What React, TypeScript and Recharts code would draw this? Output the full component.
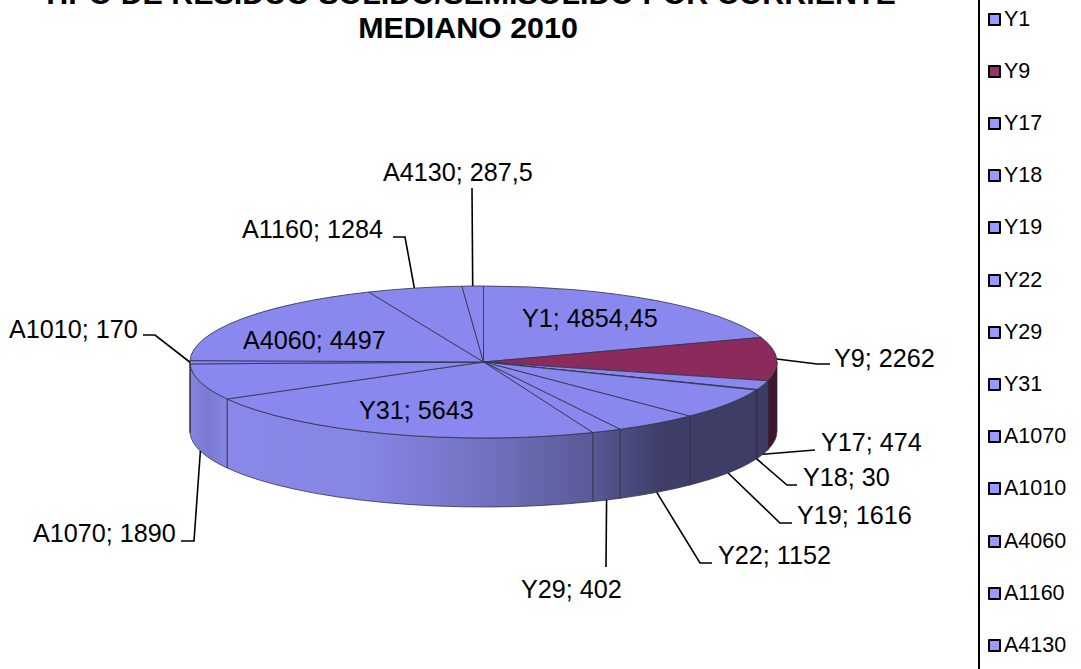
import React from "react";
import { PieChart, Pie, Cell, Legend } from "recharts";

const categories = ["Y1", "Y9", "Y17", "Y18", "Y19", "Y22", "Y29", "Y31", "A1070", "A1010", "A4060", "A1160", "A4130"];
const amounts = [4854.45, 2262, 474, 30, 1616, 1152, 402, 5643, 1890, 170, 4497, 1284, 287.5];

const titleLines = ["TIPO DE RESIDUO SOLIDO/SEMISOLIDO POR CORRIENTE", "MEDIANO 2010"];

const FONT = "'Liberation Sans', Arial, sans-serif";
const WIDTH = 1081;
const HEIGHT = 669;
const RX = 293.5;
const RY = 76;
const DEPTH = 69;

// where each label sits: text start x, text centre y, and the elbow of its leader line
const labelLayout = [
  { x: 522, y: 318 },
  { x: 834, y: 358, elbow: [[817, 364], [830, 364]] },
  { x: 821, y: 442, elbow: [[815, 450]] },
  { x: 803, y: 477, elbow: [[787, 485], [797, 485]] },
  { x: 797, y: 515, elbow: [[780, 523], [792, 523]] },
  { x: 718, y: 555, elbow: [[700, 563], [712, 563]] },
  { x: 521, y: 589, elbow: [[606, 567]] },
  { x: 359, y: 410 },
  { x: 33, y: 533, elbow: [[194, 541], [181, 541]] },
  { x: 9, y: 329, elbow: [[155, 335], [143, 335]] },
  { x: 243, y: 340 },
  { x: 242, y: 229, elbow: [[405, 237], [393, 237]] },
  { x: 383, y: 172, elbow: [[472, 188]] },
];

const tableData = categories.map((name, i) => ({ name, value: amounts[i] }));

const rad = (deg: number) => (deg * Math.PI) / 180;

function Slice3D(props: any) {
  const { cx, cy, startAngle, endAngle, fill, index } = props;
  const pt = (a: number, dy = 0) => `${cx + RX * Math.cos(rad(a))} ${cy - RY * Math.sin(rad(a)) + dy}`;
  // angles run clockwise, so the sweep flag is 1 and end < start
  const large = startAngle - endAngle > 180 ? 1 : 0;
  const top = `M${cx} ${cy} L${pt(startAngle)} A${RX} ${RY} 0 ${large} 1 ${pt(endAngle)} Z`;

  const a1 = Math.min(startAngle, 0);
  const a2 = Math.max(endAngle, -180);
  const hasWall = a1 > a2;
  const wall = `M${pt(a1)} A${RX} ${RY} 0 0 1 ${pt(a2)} L${pt(a2, DEPTH)} A${RX} ${RY} 0 0 0 ${pt(a1, DEPTH)} Z`;

  return (
    <g>
      {hasWall && (
        <path
          d={wall}
          fill={index === 1 ? "url(#wallPlum)" : "url(#wallBlue)"}
          stroke="#2c2c48"
          strokeWidth={1}
          strokeOpacity={0.75}
        />
      )}
      <path d={top} fill={fill} stroke="#34344e" strokeWidth={1} strokeOpacity={0.85} />
    </g>
  );
}

function sliceLabel(props: any) {
  const { cx, cy, midAngle, index, name, value } = props;
  const spot = labelLayout[index];
  const text = `${name}; ${String(value).replace(".", ",")}`;
  let line = null;
  if (spot.elbow) {
    const sx = cx + RX * Math.cos(rad(midAngle));
    const sy = cy - RY * Math.sin(rad(midAngle)) + (Math.sin(rad(midAngle)) < -0.01 ? DEPTH : 0);
    const pts = [[sx, sy], ...spot.elbow].map((p) => p.join(",")).join(" ");
    line = <polyline points={pts} fill="none" stroke="#000" strokeWidth={1.6} />;
  }
  return (
    <g>
      {line}
      <text x={spot.x} y={spot.y + 8.5} fontFamily={FONT} fontSize={25.2} fill="#000">
        {text}
      </text>
    </g>
  );
}

function LegendBox({ payload }: any) {
  return (
    <div style={{ width: 110, height: HEIGHT, borderLeft: "2px solid #000", boxSizing: "border-box", position: "relative" }}>
      {(payload || []).map((entry: any, i: number) => (
        <div
          key={entry.value}
          style={{
            position: "absolute",
            left: 8,
            top: 7 + i * 52.2,
            height: 24,
            display: "flex",
            alignItems: "center",
            fontFamily: FONT,
            fontSize: 21.5,
            color: "#000",
          }}
        >
          <span
            style={{
              width: 9,
              height: 9,
              border: "2.5px solid #000",
              borderRadius: 1,
              background: entry.payload?.name === "Y9" ? "#993366" : "#9999ff",
              marginRight: 3,
            }}
          />
          {entry.value}
        </div>
      ))}
    </div>
  );
}

export default function App() {
  return (
    <div style={{ position: "absolute", left: 0, top: 0, width: WIDTH, height: HEIGHT, background: "#fff" }}>
      <PieChart width={WIDTH} height={HEIGHT} margin={{ top: 0, right: 0, bottom: 0, left: 0 }}>
        <defs>
          <linearGradient id="wallBlue" gradientUnits="userSpaceOnUse" x1={190} y1={0} x2={777} y2={0}>
            <stop offset="0" stopColor="#8686e2" />
            <stop offset="0.03" stopColor="#7a7ad2" />
            <stop offset="0.07" stopColor="#8888e8" />
            <stop offset="0.3" stopColor="#8585e4" />
            <stop offset="0.5" stopColor="#7272c2" />
            <stop offset="0.68" stopColor="#5a5a98" />
            <stop offset="0.8" stopColor="#3e3e68" />
            <stop offset="1" stopColor="#3c3c64" />
          </linearGradient>
          <linearGradient id="wallPlum" gradientUnits="userSpaceOnUse" x1={750} y1={0} x2={777} y2={0}>
            <stop offset="0" stopColor="#40152e" />
            <stop offset="1" stopColor="#40152e" />
          </linearGradient>
        </defs>
        <text textAnchor="middle" x={468.5} y={3.5} fontFamily={FONT} fontWeight="bold" fontSize={30.4} fill="#000">
          {titleLines[0]}
        </text>
        <text textAnchor="middle" x={468} y={38} fontFamily={FONT} fontWeight="bold" fontSize={30.4} fill="#000">
          {titleLines[1]}
        </text>
        <Pie
          data={tableData}
          dataKey="value"
          nameKey="name"
          cx={483.5}
          cy={362}
          outerRadius={RX}
          startAngle={90}
          endAngle={-270}
          stroke="none"
          shape={Slice3D}
          label={sliceLabel}
          labelLine={false}
          isAnimationActive={false}
        >
          {categories.map((name) => (
            <Cell key={name} fill={name === "Y9" ? "#8b2b5c" : "#8888ee"} />
          ))}
        </Pie>
        <Legend
          layout="vertical"
          itemSorter={null}
          content={<LegendBox />}
          wrapperStyle={{ left: 978, top: 0, width: 110, height: HEIGHT }}
        />
      </PieChart>
    </div>
  );
}
